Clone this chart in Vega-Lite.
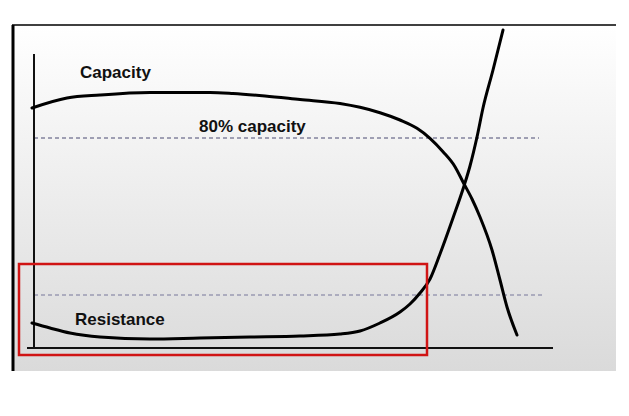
{
  "$schema": "https://vega.github.io/schema/vega-lite/v6.json",
  "width": 629,
  "height": 416,
  "autosize": {"type": "fit", "contains": "padding"},
  "padding": 0,
  "background": "#ffffff",
  "config": {"view": {"stroke": null}},
  "datasets": {
    "slide": [{"x1": -4.2, "x2": 116.4, "y1": -5.75, "y2": 80.75}],
    "curves": [
      {"series": "Capacity", "t": -0.4, "v": 60},
      {"series": "Capacity", "t": 6.6, "v": 62.5},
      {"series": "Capacity", "t": 13.2, "v": 63.25},
      {"series": "Capacity", "t": 23.2, "v": 63.875},
      {"series": "Capacity", "t": 35.2, "v": 63.875},
      {"series": "Capacity", "t": 39.8, "v": 63.625},
      {"series": "Capacity", "t": 46.2, "v": 63},
      {"series": "Capacity", "t": 53.2, "v": 62.125},
      {"series": "Capacity", "t": 61.2, "v": 61.125},
      {"series": "Capacity", "t": 65.2, "v": 60.175},
      {"series": "Capacity", "t": 69.2, "v": 58.825},
      {"series": "Capacity", "t": 73.2, "v": 57},
      {"series": "Capacity", "t": 76.6, "v": 54.925},
      {"series": "Capacity", "t": 79.2, "v": 52.425},
      {"series": "Capacity", "t": 81.8, "v": 49.075},
      {"series": "Capacity", "t": 84.2, "v": 45.325},
      {"series": "Capacity", "t": 85.8, "v": 41.5},
      {"series": "Capacity", "t": 87.6, "v": 37.25},
      {"series": "Capacity", "t": 89.2, "v": 32.75},
      {"series": "Capacity", "t": 91.6, "v": 24.5},
      {"series": "Capacity", "t": 93.2, "v": 17},
      {"series": "Capacity", "t": 94.6, "v": 10.25},
      {"series": "Capacity", "t": 96.6, "v": 3.25},
      {"series": "Resistance", "t": -0.4, "v": 6.25},
      {"series": "Resistance", "t": 3.2, "v": 5},
      {"series": "Resistance", "t": 7.2, "v": 3.75},
      {"series": "Resistance", "t": 13.2, "v": 2.75},
      {"series": "Resistance", "t": 23.2, "v": 2.25},
      {"series": "Resistance", "t": 33.2, "v": 2.5},
      {"series": "Resistance", "t": 43.2, "v": 2.75},
      {"series": "Resistance", "t": 53.2, "v": 3},
      {"series": "Resistance", "t": 61.2, "v": 3.5},
      {"series": "Resistance", "t": 65.2, "v": 4.25},
      {"series": "Resistance", "t": 69.2, "v": 6.25},
      {"series": "Resistance", "t": 73.2, "v": 9},
      {"series": "Resistance", "t": 75.2, "v": 11},
      {"series": "Resistance", "t": 77.2, "v": 13.75},
      {"series": "Resistance", "t": 79.2, "v": 17.25},
      {"series": "Resistance", "t": 81.2, "v": 23.5},
      {"series": "Resistance", "t": 83.8, "v": 32.5},
      {"series": "Resistance", "t": 86, "v": 40.5},
      {"series": "Resistance", "t": 87.2, "v": 45.5},
      {"series": "Resistance", "t": 88.6, "v": 52.75},
      {"series": "Resistance", "t": 89.8, "v": 60},
      {"series": "Resistance", "t": 91.8, "v": 69.5},
      {"series": "Resistance", "t": 93.8, "v": 79.5}
    ],
    "refs": [
      {"name": "80% capacity", "x1": 0, "x2": 101, "y": 52.5},
      {"name": "lower", "x1": 0, "x2": 101.8, "y": 13.25}
    ],
    "axes": [
      {"name": "y", "x1": 0, "x2": 0, "y1": 0, "y2": 73.5},
      {"name": "x", "x1": -1.4, "x2": 103.8, "y1": 0, "y2": 0}
    ],
    "border": [
      {"name": "top", "x1": -4.4, "x2": 116.4, "y1": 80.75, "y2": 80.75},
      {"name": "left", "x1": -4.2, "x2": -4.2, "y1": -5.75, "y2": 80.75}
    ],
    "box": [{"x1": -3, "x2": 78.6, "y1": -1.75, "y2": 21}],
    "labels": [
      {"text": "Capacity", "x": 9.2, "y": 67.5},
      {"text": "80% capacity", "x": 33, "y": 54},
      {"text": "Resistance", "x": 8.2, "y": 5.75}
    ]
  },
  "layer": [
    {
      "data": {"name": "slide"},
      "mark": {"type": "rect", "color": {"gradient": "linear", "x1": 0, "y1": 0, "x2": 0, "y2": 1, "stops": [{"offset": 0, "color": "#ffffff"}, {"offset": 1, "color": "#dadada"}]}},
      "encoding": {
        "x": {"field": "x1", "type": "quantitative", "scale": {"domain": [-6.8, 119], "nice": false, "zero": false}, "axis": null},
        "x2": {"field": "x2"},
        "y": {"field": "y1", "type": "quantitative", "scale": {"domain": [-17, 87], "nice": false, "zero": false}, "axis": null},
        "y2": {"field": "y2"}
      }
    },
    {
      "data": {"name": "border"},
      "transform": [{"filter": "datum.name == 'top'"}],
      "mark": {"type": "rule", "color": "#000000", "strokeWidth": 1.5},
      "encoding": {
        "x": {"field": "x1", "type": "quantitative"},
        "x2": {"field": "x2"},
        "y": {"field": "y1", "type": "quantitative"},
        "y2": {"field": "y2"}
      }
    },
    {
      "data": {"name": "border"},
      "transform": [{"filter": "datum.name == 'left'"}],
      "mark": {"type": "rule", "color": "#000000", "strokeWidth": 3},
      "encoding": {
        "x": {"field": "x1", "type": "quantitative"},
        "x2": {"field": "x2"},
        "y": {"field": "y1", "type": "quantitative"},
        "y2": {"field": "y2"}
      }
    },
    {
      "data": {"name": "refs"},
      "transform": [{"filter": "datum.name == '80% capacity'"}],
      "mark": {"type": "rule", "color": "#4a4a72", "strokeWidth": 1, "strokeDash": [4, 3]},
      "encoding": {
        "x": {"field": "x1", "type": "quantitative"},
        "x2": {"field": "x2"},
        "y": {"field": "y", "type": "quantitative"}
      }
    },
    {
      "data": {"name": "refs"},
      "transform": [{"filter": "datum.name == 'lower'"}],
      "mark": {"type": "rule", "color": "#76769a", "strokeWidth": 1, "strokeDash": [4, 3]},
      "encoding": {
        "x": {"field": "x1", "type": "quantitative"},
        "x2": {"field": "x2"},
        "y": {"field": "y", "type": "quantitative"}
      }
    },
    {
      "data": {"name": "axes"},
      "mark": {"type": "rule", "color": "#111111", "strokeWidth": 2},
      "encoding": {
        "x": {"field": "x1", "type": "quantitative"},
        "x2": {"field": "x2"},
        "y": {"field": "y1", "type": "quantitative"},
        "y2": {"field": "y2"}
      }
    },
    {
      "data": {"name": "curves"},
      "mark": {"type": "line", "color": "#000000", "strokeWidth": 3, "interpolate": "monotone", "strokeCap": "round"},
      "encoding": {
        "x": {"field": "t", "type": "quantitative"},
        "y": {"field": "v", "type": "quantitative"},
        "detail": {"field": "series"},
        "order": {"field": "t"}
      }
    },
    {
      "data": {"name": "box"},
      "mark": {"type": "rect", "fill": null, "fillOpacity": 0, "stroke": "#d01414", "strokeWidth": 2.5},
      "encoding": {
        "x": {"field": "x1", "type": "quantitative"},
        "x2": {"field": "x2"},
        "y": {"field": "y1", "type": "quantitative"},
        "y2": {"field": "y2"}
      }
    },
    {
      "data": {"name": "labels"},
      "mark": {"type": "text", "align": "left", "baseline": "alphabetic", "font": "Liberation Sans", "fontWeight": "bold", "fontSize": 17, "color": "#111111"},
      "encoding": {
        "x": {"field": "x", "type": "quantitative"},
        "y": {"field": "y", "type": "quantitative"},
        "text": {"field": "text"}
      }
    }
  ]
}
